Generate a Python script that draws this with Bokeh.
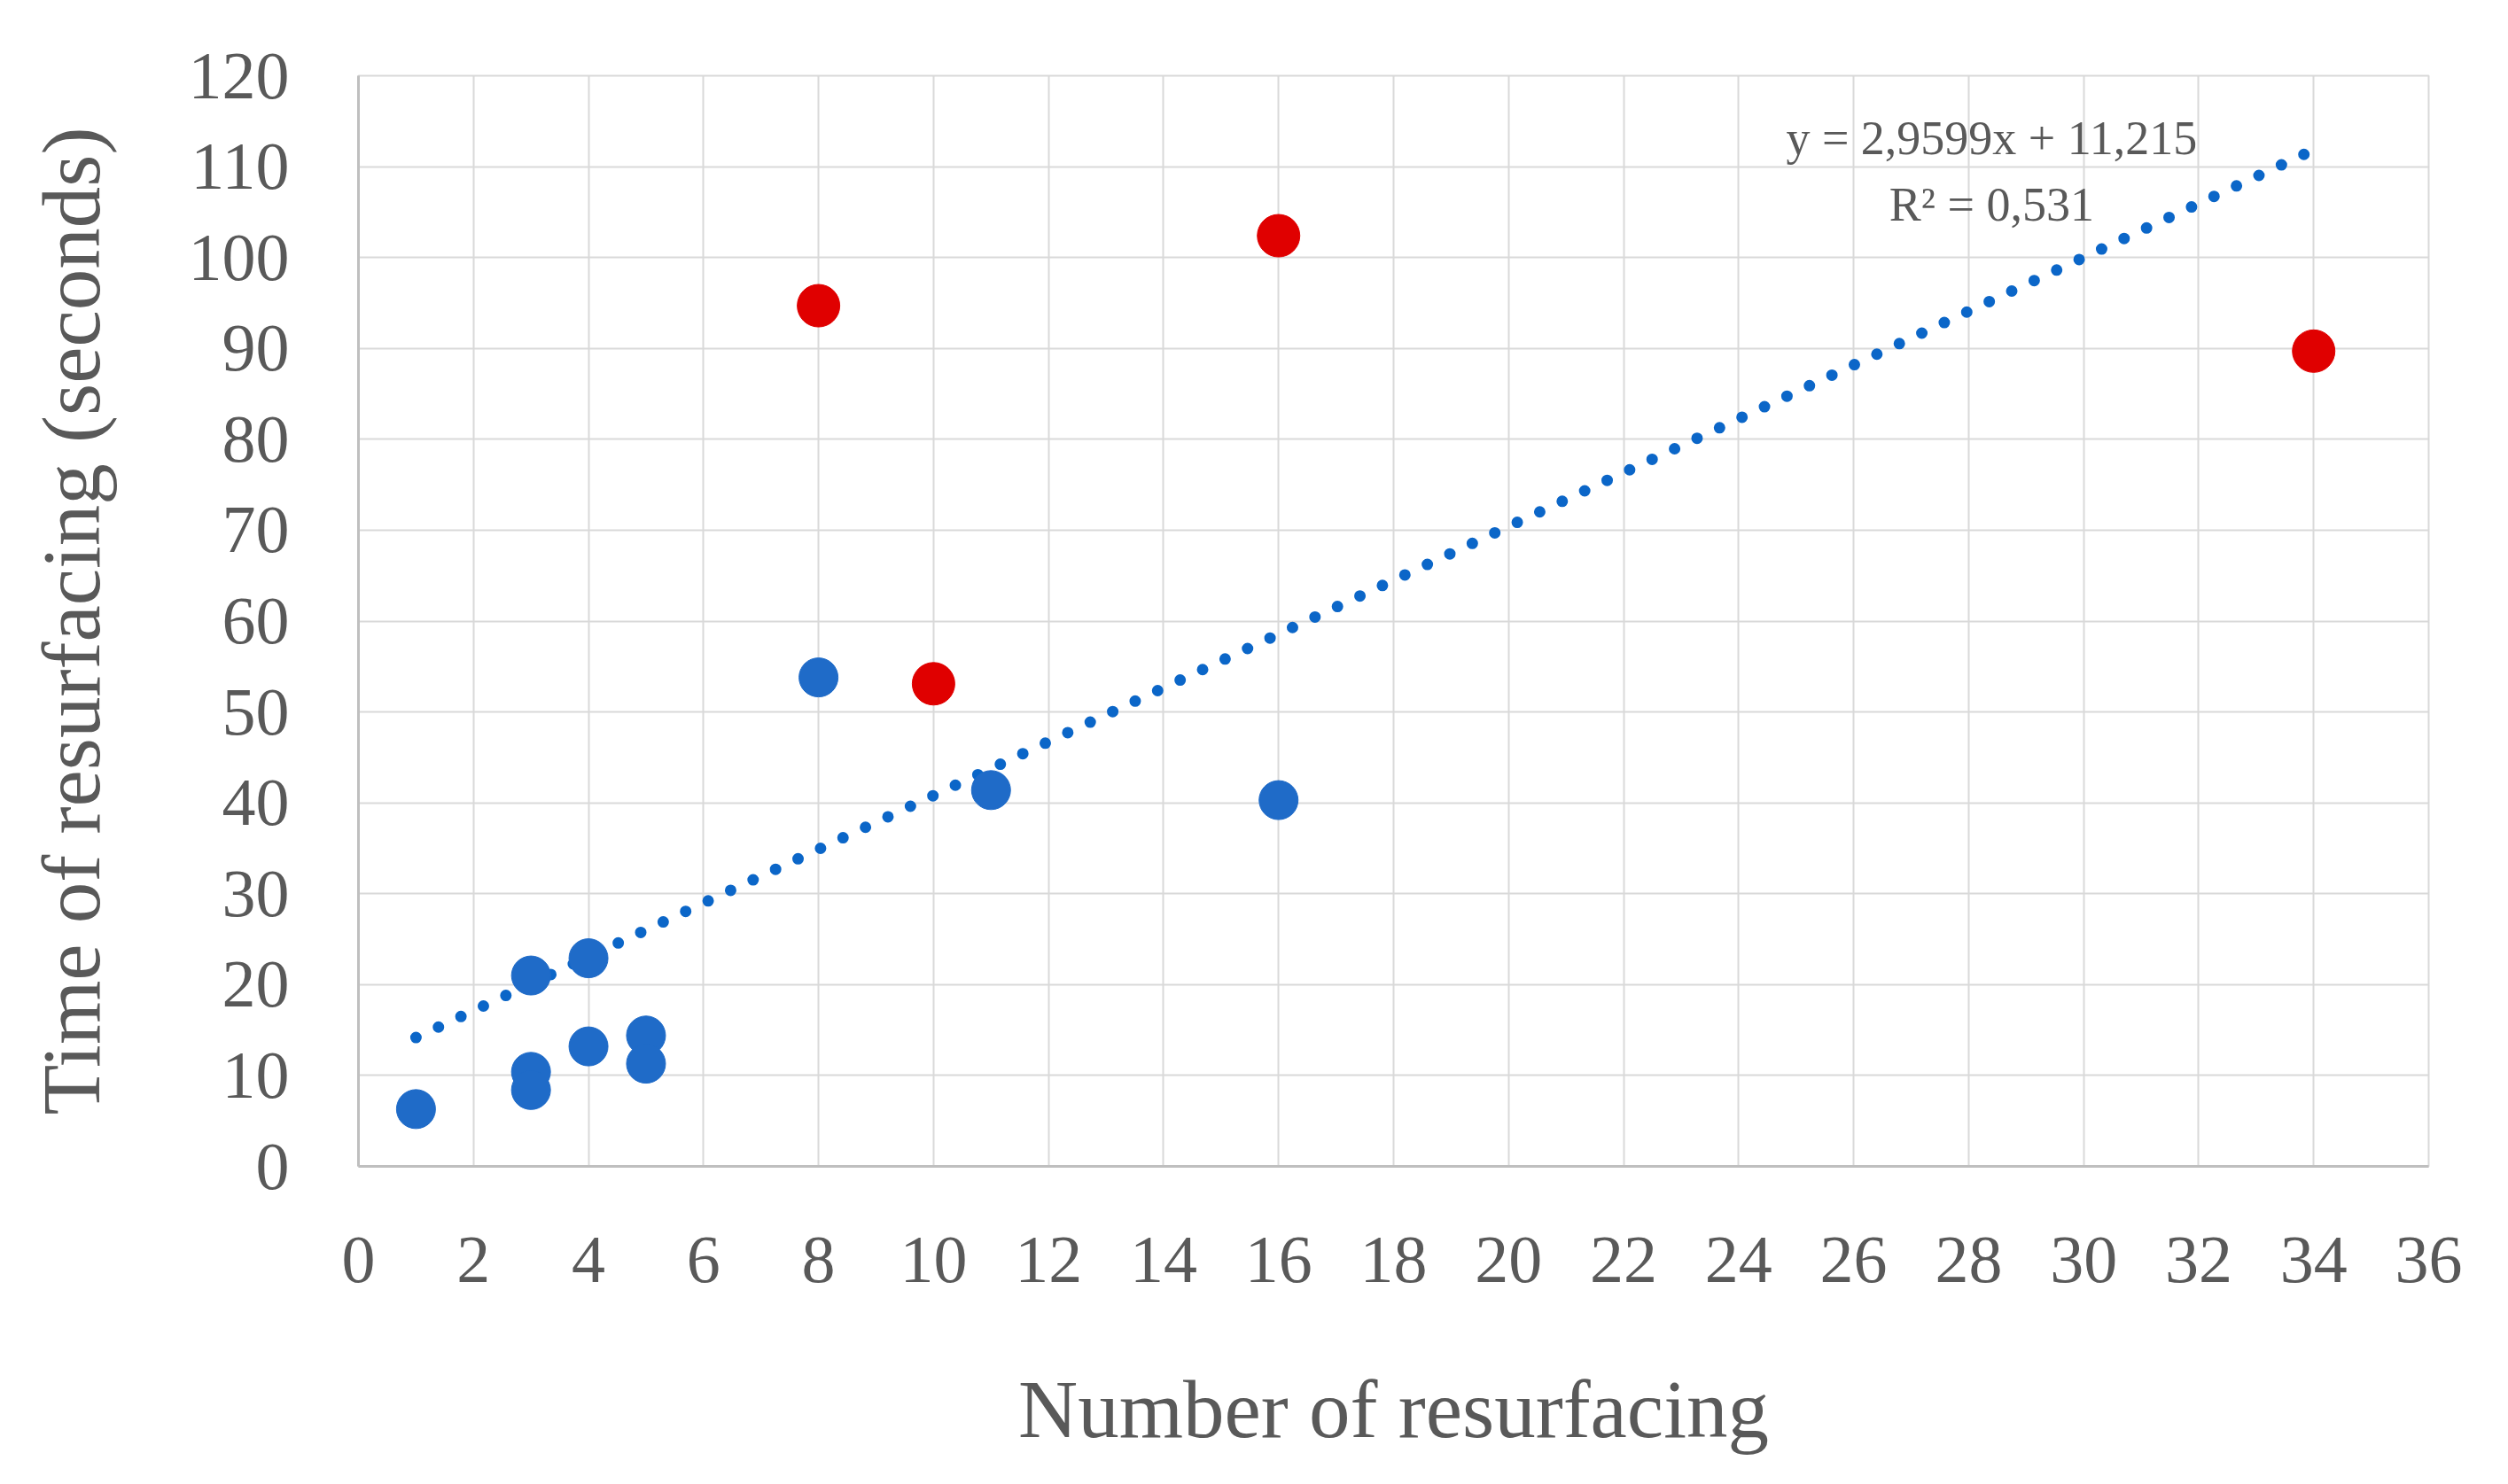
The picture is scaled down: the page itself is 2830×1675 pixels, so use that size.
from bokeh.plotting import figure
from bokeh.models import Range1d, FixedTicker
from bokeh.core.properties import value
from bokeh.embed import file_html
from bokeh.resources import INLINE

# ---- data ----
blue_x = [1, 3, 3, 3, 4, 4, 5, 5, 8, 11, 16]
blue_y = [6.3, 21.0, 10.4, 8.4, 22.9, 13.2, 14.4, 11.3, 53.8, 41.4, 40.3]
red_x = [8, 10, 16, 34]
red_y = [94.7, 53.1, 102.4, 89.7]
trend_slope = 2.9599
trend_intercept = 11.215
trend_x = [1, 34]
x_ticks = list(range(0, 37, 2))
y_ticks = list(range(0, 121, 10))
eq_lines = ["y = 2,9599x + 11,215", "R² = 0,531"]
x_title = "Number of resurfacing"
y_title = "Time of resurfacing (seconds)"

FONT = "Liberation Serif"
GREY_TXT = "#595959"

W, H = 2814, 1659
p = figure(width=W, height=H, output_backend="svg", toolbar_location=None,
           x_range=Range1d(0, 36), y_range=Range1d(0, 120),
           min_border_left=404, min_border_right=74,
           min_border_top=85, min_border_bottom=343)
p.background_fill_color = "white"
p.border_fill_color = "white"
p.outline_line_color = "#d9d9d9"
p.outline_line_width = 2

for ax in (p.xaxis[0], p.yaxis[0]):
    ax.major_tick_line_color = None
    ax.minor_tick_line_color = None
    ax.major_tick_out = 0
    ax.major_tick_in = 0
    ax.axis_line_color = "#bfbfbf"
    ax.axis_line_width = 3
    ax.major_label_text_font = FONT
    ax.major_label_text_font_size = "76px"
    ax.major_label_text_color = GREY_TXT
    ax.axis_label_text_font = FONT
    ax.axis_label_text_font_size = "93px"
    ax.axis_label_text_color = GREY_TXT
    ax.axis_label_text_font_style = "normal"

p.xaxis.ticker = FixedTicker(ticks=x_ticks)
p.yaxis.ticker = FixedTicker(ticks=y_ticks)
p.xaxis.axis_label = x_title
p.yaxis.axis_label = y_title
p.xaxis.major_label_standoff = 80
p.yaxis.major_label_standoff = 78
p.xaxis.axis_label_standoff = 89
p.yaxis.axis_label_standoff = 78

p.xgrid.ticker = FixedTicker(ticks=x_ticks)
p.ygrid.ticker = FixedTicker(ticks=y_ticks)
p.xgrid.grid_line_color = "#d9d9d9"
p.ygrid.grid_line_color = "#d9d9d9"
p.xgrid.grid_line_width = 2
p.ygrid.grid_line_width = 2

# trendline
trend_y = [trend_slope * x + trend_intercept for x in trend_x]
p.line(trend_x, trend_y, line_color="#0B66C8", line_width=13,
       line_dash="0 28", line_cap="round")

# points
p.scatter(blue_x, blue_y, size=44, fill_color="#1F6BC8", line_color="#1F6BC8")
p.scatter(red_x, red_y, size=48, fill_color="#E00000", line_color="#E00000")

# equation
p.text(x=[28.4, 28.4], y=[113.1, 105.8], text=eq_lines,
       text_align="center", text_baseline="middle",
       text_font=value(FONT), text_font_size="54px", text_color=GREY_TXT)

open("out.html", "w").write(file_html(p, INLINE))
